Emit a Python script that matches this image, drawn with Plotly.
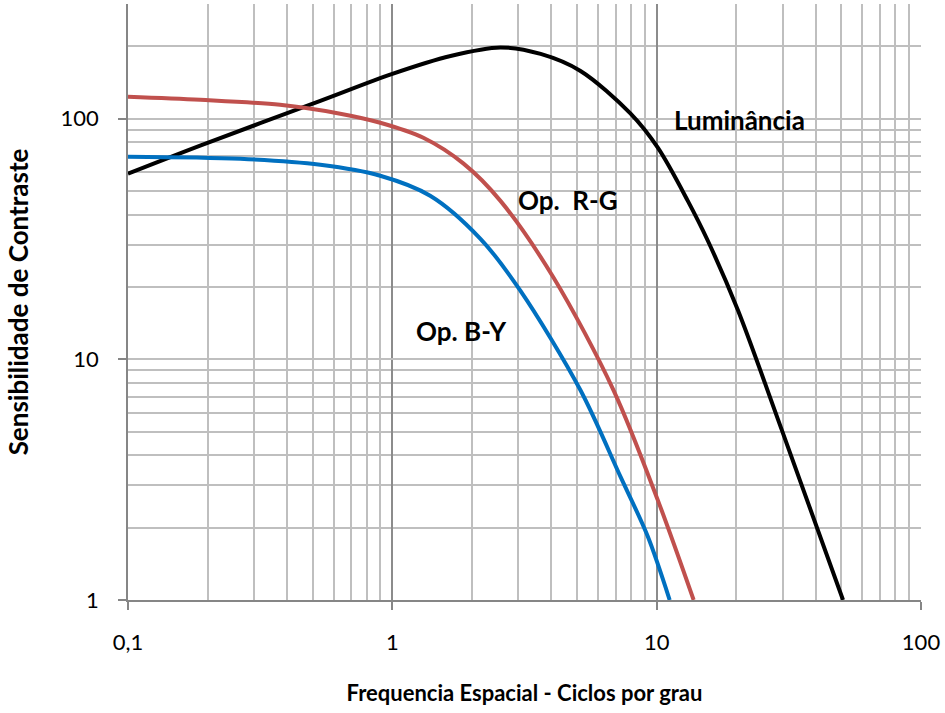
import math
import plotly.graph_objects as go

# Contrast sensitivity curves (cycles per degree vs. sensitivity)
lum_x = [0.1, 0.1875, 0.534, 1.0, 1.66, 2.56, 3.64, 5.15, 7.97, 10.1, 13.1, 15.6, 20.3, 29.5, 50.7]
lum_y = [59.1, 77.3, 118.8, 153.8, 182.5, 198, 186, 158, 105, 75.8, 45.7, 31.2, 16.0, 5.22, 1.0]

rg_x = [0.1, 0.1875, 0.376, 0.635, 0.9, 1.31, 1.86, 2.56, 4.07, 6.87, 10.1, 13.8]
rg_y = [123.4, 119.9, 114.3, 105, 96.3, 83.4, 65.1, 45.7, 21.9, 7.44, 2.6, 1.0]

by_x = [0.1, 0.266, 0.534, 0.9, 1.39, 2.15, 3.05, 5.15, 7.31, 9.25, 11.2]
by_y = [69.6, 68.2, 64.4, 58.0, 47.9, 31.8, 19.3, 7.44, 3.24, 1.84, 1.0]

x_ticks = [0.1, 1, 10, 100]
x_labels = ["0,1", "1", "10", "100"]
y_ticks = [1, 10, 100]
y_labels = ["1", "10", "100"]

x_minor = [m * 10 ** e for e in (-1, 0, 1) for m in range(2, 10)]
y_minor = [m * 10 ** e for e in (0, 1) for m in range(2, 10)] + [200, 300]

series = [
    ("Luminância", lum_x, lum_y, "#000000"),
    ("Op. R-G", rg_x, rg_y, "#C0504D"),
    ("Op. B-Y", by_x, by_y, "#0070C0"),
]

# Curve labels placed in data coordinates
label_text = ["Luminância", "Op.  R-G", "Op. B-Y"]
label_x = [20.5, 4.6, 1.82]
label_y = [99, 46.1, 13.1]

fig = go.Figure()
for name, xs, ys, color in series:
    fig.add_trace(go.Scatter(
        x=xs, y=ys, mode="lines", name=name,
        line=dict(color=color, width=4, shape="spline", smoothing=0.9),
        showlegend=False,
    ))

font_family = "Lato, 'Open Sans', sans-serif"

for text, lx, ly in zip(label_text, label_x, label_y):
    # annotation positions on log axes are given in log10 units
    fig.add_annotation(x=math.log10(lx), y=math.log10(ly), xref="x", yref="y",
                       text=f"<b>{text}</b>", showarrow=False,
                       xanchor="center", yanchor="middle",
                       font=dict(family=font_family, size=26, color="#000000"))

grid_minor = "#BFBFBF"
axis_color = "#868686"

fig.update_layout(
    width=945, height=713,
    margin=dict(l=128, r=24, t=4, b=113),
    plot_bgcolor="white", paper_bgcolor="white",
    font=dict(family=font_family, size=22, color="#000000"),
    xaxis=dict(
        type="log", range=[-1, 2],
        tickvals=x_ticks, ticktext=x_labels,
        ticks="outside", ticklen=8, tickcolor=axis_color, tickwidth=1.5,
        showline=True, linecolor=axis_color, linewidth=1.5,
        showgrid=True, gridcolor="#8C8C8C", gridwidth=1.5,
        minor=dict(tickvals=x_minor, showgrid=True, gridcolor=grid_minor, gridwidth=1.5,
                   ticks=""),
        tickfont=dict(size=22),
        ticklabelstandoff=14,
        title=dict(text="<b>Frequencia Espacial - Ciclos por grau</b>",
                   font=dict(size=22), standoff=31),
        zeroline=False,
    ),
    yaxis=dict(
        type="log", range=[0, 2.4771],
        tickvals=y_ticks, ticktext=y_labels,
        ticks="outside", ticklen=8, tickcolor=axis_color, tickwidth=1.5,
        showline=True, linecolor=axis_color, linewidth=1.5,
        showgrid=True, gridcolor=grid_minor, gridwidth=1.5,
        minor=dict(tickvals=y_minor, showgrid=True, gridcolor=grid_minor, gridwidth=1.5,
                   ticks=""),
        tickfont=dict(size=22),
        ticklabelstandoff=15,
        title=dict(text="<b>Sensibilidade de Contraste</b>",
                   font=dict(size=26), standoff=24),
        zeroline=False,
    ),
)

fig.write_html("out.html")
